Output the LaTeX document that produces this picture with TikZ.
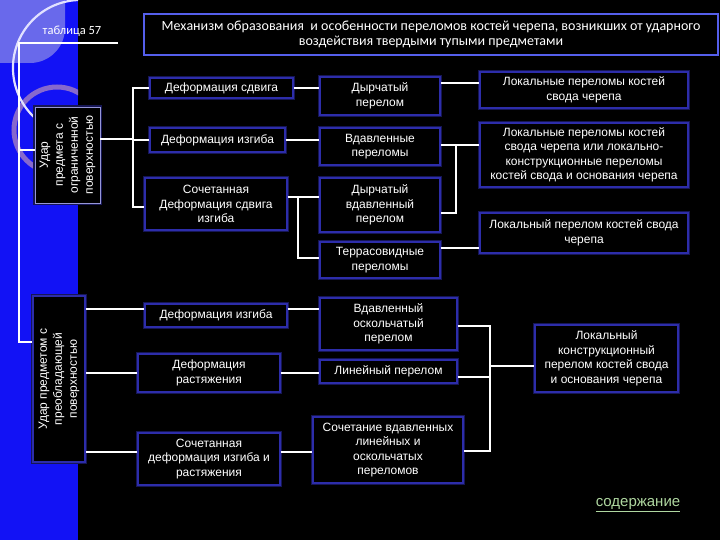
\documentclass[tikz,border=0pt]{standalone}
\usepackage{fontspec}
\setmainfont{Liberation Sans}
\newfontfamily\titlefont{Carlito}
\definecolor{stripblue}{RGB}{18,18,245}
\definecolor{lav}{RGB}{105,105,235}
\definecolor{ringc}{RGB}{135,105,205}
\definecolor{arcc}{RGB}{225,225,255}
\definecolor{boxline}{RGB}{45,45,170}
\definecolor{boxglow}{RGB}{22,22,85}
\definecolor{titleline}{RGB}{85,95,235}
\definecolor{graybox}{RGB}{150,150,215}
\definecolor{linkgreen}{RGB}{175,215,160}
\tikzset{
  box/.style={draw=boxline, line width=1.4pt, fill=black, text=white, align=center,
    inner sep=0pt, font=\fontsize{12}{14.5}\selectfont,
    preaction={draw=boxglow, line width=4pt}},
  rbox/.style={box, rotate=90, font=\fontsize{12}{15}\selectfont},
  conn/.style={draw=white, line width=1.1pt},
}
\begin{document}
\begin{tikzpicture}[x=1pt,y=-1pt]
\useasboundingbox (0,0) rectangle (720,540);
\fill[black] (0,0) rectangle (720,540);
% left strip decoration
\fill[stripblue] (0,0) rectangle (78,540);
\begin{scope}
\clip (0,0) rectangle (78,540);
\fill[lav, rounded corners=35pt] (-40,-40) rectangle (65,63);
\draw[ringc, line width=5pt] (57,130) circle[radius=43pt];
\draw[arcc, line width=2.2pt] (78,0) arc[start angle=92.5, end angle=227, radius=68pt];
\end{scope}

% title
\node[draw=titleline, line width=2.5pt, fill=black, text=white, align=center, inner sep=0pt,
  minimum width=574, minimum height=41,
  font=\titlefont\fontsize{14}{15}\selectfont] (title) at (431,34.5)
  {Механизм образования \ и особенности переломов костей черепа, возникших от ударного\\
   воздействия твердыми тупыми предметами};
\node[text=white, font=\titlefont\fontsize{12.5}{14}\selectfont, inner sep=0pt] (tab) at (72,31) {таблица 57};

% left rotated boxes
\node[rbox, draw=graybox, line width=0.8pt, preaction={draw=boxglow, line width=0pt},
  minimum width=96, minimum height=65] (R1) at (67.5,155)
  {Удар\\предмета с\\ограниченной\\поверхностью};
\node[rbox, minimum width=166, minimum height=52] (R2) at (59,379)
  {Удар предметом с\\преобладающей\\поверхностью};

% upper column A
\node[box, minimum width=143, minimum height=20] (A1) at (221.5,88) {Деформация сдвига};
\node[box, minimum width=135, minimum height=24] (A2) at (217.5,140) {Деформация изгиба};
\node[box, minimum width=142, minimum height=52] (A3) at (216,204) {Сочетанная\\Деформация сдвига\\изгиба};
% upper column B
\node[box, minimum width=120, minimum height=38] (B1) at (380,96) {Дырчатый\\перелом};
\node[box, minimum width=120, minimum height=37] (B2) at (380,146.5) {Вдавленные\\переломы};
\node[box, minimum width=120, minimum height=54] (B3) at (380,205) {Дырчатый\\вдавленный\\перелом};
\node[box, minimum width=120, minimum height=36] (B4) at (380,260) {Террасовидные\\переломы};
% column C
\node[box, minimum width=208, minimum height=36] (C1) at (584,90) {Локальные переломы костей\\свода черепа};
\node[box, minimum width=208, minimum height=64] (C2) at (584,155) {Локальные переломы костей\\свода черепа или локально-\\конструкционные переломы\\костей свода и основания черепа};
\node[box, minimum width=208, minimum height=40] (C3) at (584,233) {Локальный перелом костей свода\\черепа};

% lower
\node[box, minimum width=142, minimum height=23] (L1) at (216,315.5) {Деформация изгиба};
\node[box, minimum width=142, minimum height=38] (L2) at (209,373) {Деформация\\растяжения};
\node[box, minimum width=142, minimum height=52] (L3) at (209,459) {Сочетанная\\деформация изгиба и\\растяжения};
\node[box, minimum width=137, minimum height=52] (M1) at (388.5,324) {Вдавленный\\оскольчатый\\перелом};
\node[box, minimum width=137, minimum height=23] (M2) at (388.5,371.5) {Линейный перелом};
\node[box, minimum width=150, minimum height=66] (M3) at (388,450) {Сочетание вдавленных\\линейных и\\оскольчатых\\переломов};
\node[box, minimum width=143, minimum height=67] (C4) at (606.5,358.5) {Локальный\\конструкционный\\перелом костей свода\\и основания черепа};

% link
\node[text=linkgreen, font=\fontsize{15}{17}\selectfont, inner sep=0pt] (link) at (638,505) {\underline{содержание}};

% connectors
\coordinate (tabEnd) at (118,43);
\coordinate (spine) at (19,43);
\draw[conn] (tabEnd) -- (spine) |- ([yshift=37pt]R2.north);
\draw[conn] ([yshift=5pt]R1.north) -- ++(-16,0);

\coordinate (busA) at (133,88);
\draw[conn] ([yshift=16pt]R1.south) -- ++(33,0);
\draw[conn] (A1.west) -- (A1.west -| busA) |- ([yshift=-3pt]A3.west);
\draw[conn] (A2.west) -- (A2.west -| busA);

\draw[conn] (A1.east) -- (A1.east -| B1.west);
\draw[conn] (A2.east) -- (A2.east -| B2.west);
\draw[conn] ([yshift=7pt]A3.east) -- ([yshift=7pt]A3.east -| B3.west);
\coordinate (brA) at (298,197);
\draw[conn] (brA) |- ([yshift=2pt]B4.west);

\draw[conn] ([yshift=7pt]C1.west) -- ([yshift=7pt]C1.west -| B1.east);
\draw[conn] ([yshift=10pt]C2.west) -- ([yshift=10pt]C2.west -| B2.east);
\coordinate (busB) at (456,145);
\draw[conn] (busB) |- ([yshift=-8pt]B3.east);
\draw[conn] ([yshift=12pt]B4.east) -- ([yshift=12pt]B4.east -| C3.west);

\draw[conn] ([yshift=6.5pt]L1.west) -- ([yshift=6.5pt]L1.west -| R2.south);
\draw[conn] (L2.west) -- (L2.west -| R2.south);
\draw[conn] ([yshift=7pt]L3.west) -- ([yshift=7pt]L3.west -| R2.south);
\draw[conn] ([yshift=6.5pt]L1.east) -- ([yshift=6.5pt]L1.east -| M1.west);
\draw[conn] (L2.east) -- (L2.east -| M2.west);
\draw[conn] ([yshift=7pt]L3.east) -- ([yshift=7pt]L3.east -| M3.west);

\coordinate (busC) at (490,366);
\draw[conn] ([yshift=-2pt]M1.east) -| (busC) |- ([yshift=-1pt]M3.east);
\draw[conn] ([yshift=-5.5pt]M2.east) -- ([yshift=-5.5pt]M2.east -| busC);
\draw[conn] (busC) -- (busC -| C4.west);
\end{tikzpicture}
\end{document}
